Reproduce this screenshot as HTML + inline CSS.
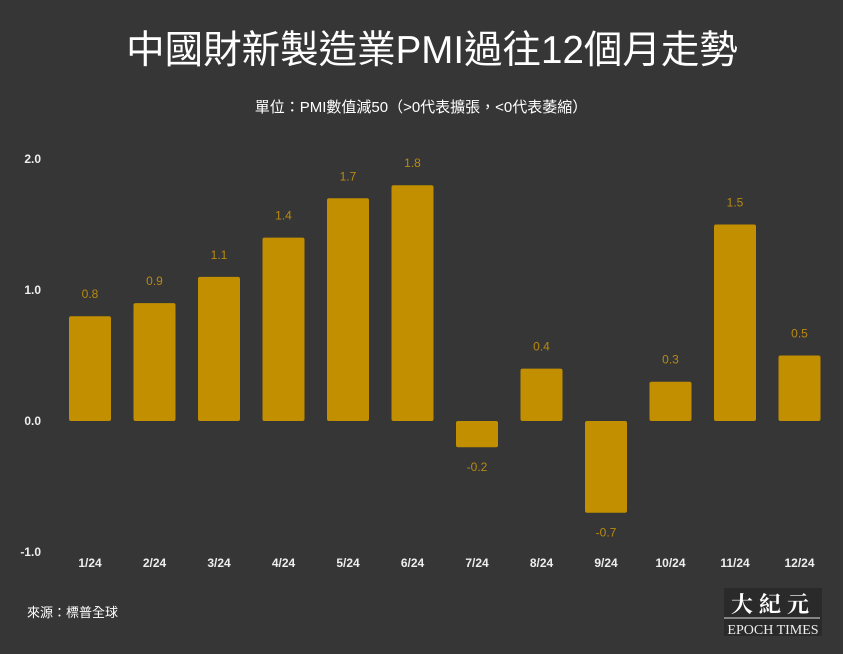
<!DOCTYPE html>
<html><head><meta charset="utf-8"><style>
body{margin:0;width:843px;height:649px;background:#363636;overflow:hidden;font-family:"Liberation Sans","Noto Sans CJK TC",sans-serif;}
</style></head><body>
<svg width="843" height="649" xmlns="http://www.w3.org/2000/svg" font-family="Liberation Sans, Noto Sans CJK TC, sans-serif">
<rect width="843" height="649" fill="#363636"/>
<text x="432" y="63" fill="#fff" font-size="38.5" text-anchor="middle">中國財新製造業PMI過往12個月走勢</text>
<text x="421" y="112" fill="#fff" font-size="15" text-anchor="middle">單位：PMI數值減50（&gt;0代表擴張，&lt;0代表萎縮）</text>
<g fill="#eee" font-size="12" font-weight="bold" text-anchor="end">
<text x="41" y="163">2.0</text><text x="41" y="294">1.0</text><text x="41" y="425">0.0</text><text x="41" y="556">-1.0</text>
</g>
<g id="bars" fill="#c18f00"></g>
<g id="vals" fill="#b88a10" font-size="12" text-anchor="middle"></g>
<g id="xl" fill="#eee" font-size="12" font-weight="bold" text-anchor="middle"></g>
<text x="27" y="617" fill="#fff" font-size="13">來源：標普全球</text>
<rect x="724" y="588" width="98" height="48" fill="#2a2a2a"/>
<text x="773" y="612" fill="#fff" font-size="22" font-weight="bold" font-family="Noto Serif CJK SC, serif" text-anchor="middle" letter-spacing="6">大紀元</text>
<line x1="724" y1="618" x2="820" y2="618" stroke="#ddd" stroke-width="1"/>
<text x="773" y="634" fill="#eee" font-size="14" font-family="Liberation Serif, serif" text-anchor="middle">EPOCH TIMES</text>
</svg>
<script>
var v=[0.8,0.9,1.1,1.4,1.7,1.8,-0.2,0.4,-0.7,0.3,1.5,0.5];
var ns="http://www.w3.org/2000/svg";
function el(g,t,a,txt){var e=document.createElementNS(ns,t);for(var k in a)e.setAttribute(k,a[k]);if(txt)e.textContent=txt;document.getElementById(g).appendChild(e);}
v.forEach(function(d,i){var c=90+i*64.5,h=Math.abs(d)*131,y=d>0?421-h:421;
el("bars","rect",{x:c-21,y:y,width:42,height:h,rx:2});
el("vals","text",{x:c,y:d>0?y-18:421+h+24},d.toFixed(1));
el("xl","text",{x:c,y:567},(i+1)+"/24");});
</script>
</body></html>
